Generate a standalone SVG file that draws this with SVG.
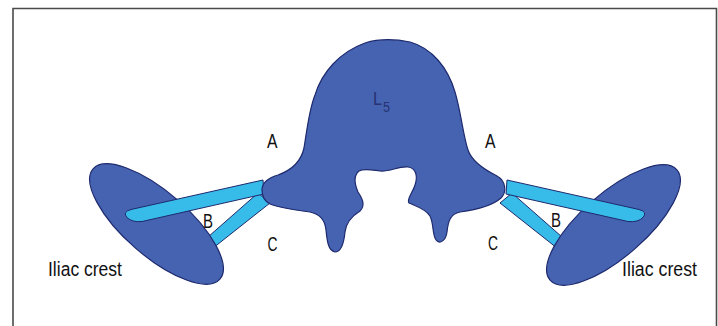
<svg xmlns="http://www.w3.org/2000/svg" width="718" height="326" viewBox="0 0 718 326">
<style>
.bone{fill:#4563B1;stroke:#1E2A6E;stroke-width:1.2;stroke-linejoin:round}
.lig{fill:#37BCEA;stroke:#1E2A6E;stroke-width:1;stroke-linejoin:round}
.lbl{font-family:"Liberation Sans",Arial,sans-serif;fill:#111;font-size:20px}
.crest{font-family:"Liberation Sans",Arial,sans-serif;fill:#111;font-size:19.5px}
.l5{font-family:"Liberation Sans",Arial,sans-serif;fill:#263272}
</style>
<rect width="718" height="326" fill="#fff"/>
<path d="M13,326 V8.5 H716.5 V326" fill="none" stroke="#4a4a4a" stroke-width="1.6"/>
<g id="connectors">
  <path id="lig-C-left" class="lig" d="M258,193 L200,244 L208,252 L270,203 Z"/>
  <path id="lig-C-right" class="lig" d="M512,193 L570,244 L562,252 L500,203 Z"/>
</g>
<g id="iliac-left">
  <ellipse class="bone" cx="156.5" cy="224" rx="84" ry="32" transform="rotate(41 156.5 224)"/>
</g>
<g id="iliac-right">
  <ellipse class="bone" cx="613.5" cy="225" rx="84" ry="32" transform="rotate(-41 613.5 225)"/>
</g>
<g id="ligaments-upper">
  <path id="lig-B-left" class="lig" d="M263,180 L131,209.5 Q122,212 127,217.5 Q132,222.5 142,221.5 L264,194 Z"/>
  <path id="lig-B-right" class="lig" d="M507,180 L639,209.5 Q648,212 643,217.5 Q638,222.5 628,221.5 L506,194 Z"/>
</g>
<g id="vertebra-L5">
  <path class="bone" d="M262,190 C262,182 268,178 278,175 C292,170 301,162 304,148 C307,130 309,110 315,95 C322,72 340,52 365,43 C378,39 395,39 410,42 C432,48 448,68 455,92 C461,112 463,135 468,150 C472,162 485,170 497,176 C506,181 507,192 501,198 C492,206 475,210 460,212 C450,214 448,222 447,232 C446,240 440,245 436,240 C432,234 434,224 430,216 C426,209 416,206 409,203 C406,200 413,192 415,185 C418,176 416,168 408,167 C398,166 390,172 380,171 C372,170 364,168 359,171 C353,176 355,185 358,192 C362,198 366,205 360,211 C352,216 346,222 345,232 C344,242 342,252 335,252 C328,251 327,240 326,230 C325,220 320,214 310,212 C295,210 280,208 270,204 C264,201 262,196 262,190 Z"/>
  <text class="l5" x="373" y="105" font-size="18" textLength="9" lengthAdjust="spacingAndGlyphs">L</text>
  <text class="l5" x="383" y="112" font-size="15" textLength="7" lengthAdjust="spacingAndGlyphs">5</text>
</g>
<g id="labels">
  <text class="lbl" x="267" y="148" textLength="10.5" lengthAdjust="spacingAndGlyphs">A</text>
  <text class="lbl" x="485" y="148" textLength="10.5" lengthAdjust="spacingAndGlyphs">A</text>
  <text class="lbl" x="203" y="228" textLength="10" lengthAdjust="spacingAndGlyphs">B</text>
  <text class="lbl" x="551" y="227" textLength="10" lengthAdjust="spacingAndGlyphs">B</text>
  <text class="lbl" x="267.5" y="251" textLength="10" lengthAdjust="spacingAndGlyphs">C</text>
  <text class="lbl" x="488" y="250" textLength="10" lengthAdjust="spacingAndGlyphs">C</text>
  <text class="crest" x="48" y="276" textLength="74" lengthAdjust="spacingAndGlyphs">Iliac crest</text>
  <text class="crest" x="622" y="276" textLength="75" lengthAdjust="spacingAndGlyphs">Iliac crest</text>
</g>
</svg>
